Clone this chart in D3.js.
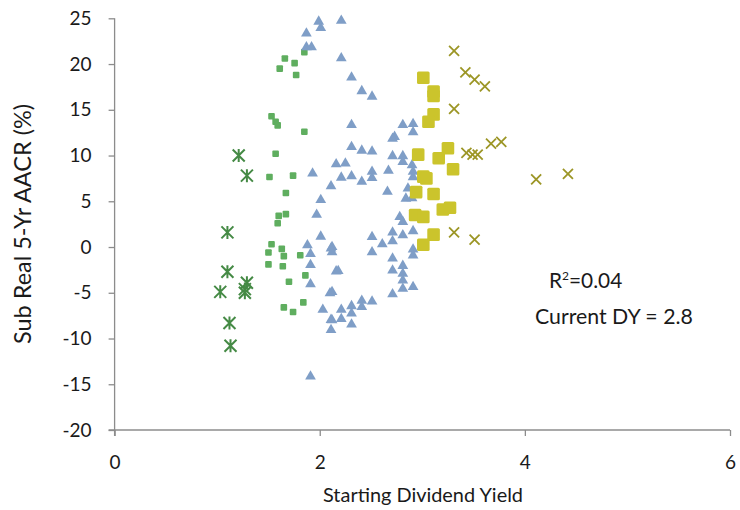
<!DOCTYPE html>
<html><head><meta charset="utf-8">
<script src="https://cdn.jsdelivr.net/npm/d3@7"></script>
<style>body{margin:0;background:#fff}svg{display:block}text{font-family:Lato,"Open Sans",sans-serif}</style>
</head><body>
<svg id="c" width="740" height="510"></svg>
<script>
const xTicks = [0, 2, 4, 6];
const yTicks = [-20, -15, -10, -5, 0, 5, 10, 15, 20, 25];

const asterX = [1.21, 1.29, 1.10, 1.10, 1.03, 1.29, 1.27, 1.27, 1.12, 1.13];
const asterY = [10.0, 7.8, 1.6, -2.7, -4.9, -3.9, -4.6, -5.0, -8.3, -10.8];

const smallSqX = [1.85, 1.66, 1.755, 1.61, 1.77, 1.53, 1.57, 1.59, 1.85, 1.57, 1.51, 1.74, 1.67, 1.60, 1.67, 1.59, 1.53, 1.50, 1.63, 1.65, 1.81, 1.50, 1.64, 1.86, 1.70, 1.84, 1.65, 1.74];
const smallSqY = [21.3, 20.6, 20.1, 19.5, 18.8, 14.3, 13.7, 13.3, 12.6, 10.2, 7.65, 7.8, 5.9, 3.4, 3.6, 2.6, 0.3, -0.6, -0.2, -1.0, -0.9, -1.9, -2.1, -3.1, -3.8, -6.05, -6.6, -7.1];

const triX = [1.99, 2.01, 2.21, 1.87, 1.87, 1.92, 2.21, 2.31, 2.41, 2.51, 2.31, 2.81, 2.91, 2.73, 2.71, 2.91, 2.31, 2.41, 2.51, 2.71, 2.81, 2.81, 2.90, 2.91, 2.91, 2.16, 2.25, 1.93, 2.21, 2.31, 2.51, 2.51, 2.67, 2.41, 2.11, 2.66, 2.86, 2.84, 2.90, 2.01, 1.97, 2.01, 1.88, 1.91, 2.11, 1.91, 2.16, 1.91, 2.10, 2.03, 2.11, 2.11, 1.91, 2.78, 2.81, 2.51, 2.51, 2.61, 2.71, 2.71, 2.81, 2.91, 2.91, 2.91, 2.12, 2.12, 2.18, 2.71, 2.71, 2.81, 2.81, 2.81, 2.91, 2.81, 2.71, 2.51, 2.41, 2.41, 2.31, 2.31, 2.21, 2.21, 2.12, 2.31, 2.12];
const triY = [24.7, 24.0, 24.8, 23.4, 21.9, 21.9, 20.7, 18.6, 17.1, 16.5, 13.4, 13.4, 13.5, 12.1, 11.9, 12.6, 11.0, 10.6, 10.5, 10.0, 10.0, 9.35, 9.0, 8.3, 7.7, 9.1, 9.2, 8.1, 7.65, 7.8, 8.3, 7.6, 8.4, 7.2, 6.7, 6.1, 6.45, 5.35, 5.4, 5.2, 3.6, 1.2, 0.25, -0.7, -0.1, -1.9, -2.6, -4.0, -5.0, -6.8, -7.9, -9.0, -14.1, 3.35, 2.8, 1.16, -0.5, 0.36, 1.64, 0.69, 1.34, 1.8, -0.2, -0.85, 0.07, -0.5, -2.55, -1.2, -2.5, -2.0, -2.85, -3.6, -4.3, -4.5, -5.1, -5.9, -5.8, -6.5, -6.4, -7.2, -6.8, -7.8, -7.95, -8.4, -4.85];

const bigSqX = [3.01, 3.11, 3.11, 3.11, 3.06, 3.25, 3.16, 2.96, 3.30, 3.01, 3.04, 2.94, 3.11, 3.20, 3.27, 2.93, 3.01, 3.11, 3.01];
const bigSqY = [18.5, 17.0, 16.5, 14.5, 13.7, 10.8, 9.7, 10.1, 8.5, 7.7, 7.5, 6.0, 5.8, 4.1, 4.3, 3.5, 3.3, 1.35, 0.25];

const crossX = [3.31, 3.42, 3.51, 3.61, 3.31, 3.43, 3.49, 3.54, 3.67, 3.77, 4.11, 4.42, 3.31, 3.51];
const crossY = [21.45, 19.1, 18.3, 17.55, 15.1, 10.3, 10.1, 10.1, 11.3, 11.5, 7.4, 8.0, 1.6, 0.8];

const svg = d3.select("#c");
const x = d3.scaleLinear().domain([0, 6]).range([114.6, 730]);
const y = d3.scaleLinear().domain([-20, 25]).range([430, 18.3]);
const axisCol = "#8c8c8c";
const txtCol = "#1a1a1a";

function fit(sel, w) {
  const cur = sel.node().getComputedTextLength();
  const fs = parseFloat(sel.style("font-size"));
  sel.style("font-size", (fs * w / cur).toFixed(2) + "px");
}

const gx = svg.append("g").attr("transform", `translate(0,${y(-20)})`)
  .call(d3.axisBottom(x).tickValues(xTicks).tickSize(6).tickPadding(20).tickFormat(d => String(d)));
const gy = svg.append("g").attr("transform", `translate(${x(0)},0)`)
  .call(d3.axisLeft(y).tickValues(yTicks).tickSize(6).tickPadding(17).tickFormat(d => String(d)));
[gx, gy].forEach(g => {
  g.select(".domain").attr("stroke", axisCol).attr("stroke-width", 1.3);
  g.selectAll(".tick line").attr("stroke", axisCol).attr("stroke-width", 1.3);
  g.selectAll(".tick text").attr("fill", txtCol).style("font-family", "Lato").style("font-size", "19px");
});
gx.select(".domain").attr("d", `M${x(0)-6},0H${x(6)}`);
gy.select(".domain").attr("d", `M0,${y(25)}V${y(-20)+6}`);

const xt = svg.append("text").attr("x", 423).attr("y", 502).attr("text-anchor", "middle")
  .style("font-size", "19px").attr("fill", txtCol).text("Starting Dividend Yield");
fit(xt, 200);
const yt = svg.append("text").attr("transform", "translate(31,224) rotate(-90)").attr("text-anchor", "middle")
  .style("font-size", "19px").attr("fill", txtCol).text("Sub Real 5-Yr AACR (%)");
fit(yt, 240);

const pts = (xs, ys) => xs.map((v, i) => [v, ys[i]]);

// small green squares
svg.append("g").selectAll("rect").data(pts(smallSqX, smallSqY)).join("rect")
  .attr("x", d => x(d[0]) - 3.3).attr("y", d => y(d[1]) - 3.3)
  .attr("width", 6.6).attr("height", 6.6).attr("rx", 1).attr("fill", "#5fae5f");

// blue triangles
const tri = d3.symbol().type(d3.symbolTriangle).size(50);
svg.append("g").selectAll("path").data(pts(triX, triY)).join("path")
  .attr("d", tri).attr("transform", d => `translate(${x(d[0])},${y(d[1]) + 0.5})`)
  .attr("fill", "#7f9ec7");

// yellow big squares
svg.append("g").selectAll("rect").data(pts(bigSqX, bigSqY)).join("rect")
  .attr("x", d => x(d[0]) - 6.3).attr("y", d => y(d[1]) - 6.3)
  .attr("width", 12.6).attr("height", 12.6).attr("rx", 1.5).attr("fill", "#cbc42c");

// asterisks
svg.append("g").selectAll("path").data(pts(asterX, asterY)).join("path")
  .attr("d", d => {
    const cx = x(d[0]), cy = y(d[1]), r = 6;
    return `M${cx-r},${cy-r}L${cx+r},${cy+r}M${cx-r},${cy+r}L${cx+r},${cy-r}M${cx},${cy-r-0.5}L${cx},${cy+r+0.5}`;
  })
  .attr("stroke", "#458a45").attr("stroke-width", 2).attr("fill", "none");

// olive crosses
svg.append("g").selectAll("path").data(pts(crossX, crossY)).join("path")
  .attr("d", d => {
    const cx = x(d[0]), cy = y(d[1]), r = 5;
    return `M${cx-r},${cy-r}L${cx+r},${cy+r}M${cx-r},${cy+r}L${cx+r},${cy-r}`;
  })
  .attr("stroke", "#9c9626").attr("stroke-width", 1.8).attr("fill", "none");

const t1 = svg.append("text").attr("x", 549).attr("y", 288).style("font-size", "19px").attr("fill", txtCol);
t1.append("tspan").text("R");
t1.append("tspan").attr("dy", -8).style("font-size", "12px").text("2");
t1.append("tspan").attr("dy", 8).text("=0.04");
fit(t1, 74);
const t2 = svg.append("text").attr("x", 535).attr("y", 324).style("font-size", "19px").attr("fill", txtCol).text("Current DY = 2.8");
fit(t2, 158);
</script>
</body></html>
